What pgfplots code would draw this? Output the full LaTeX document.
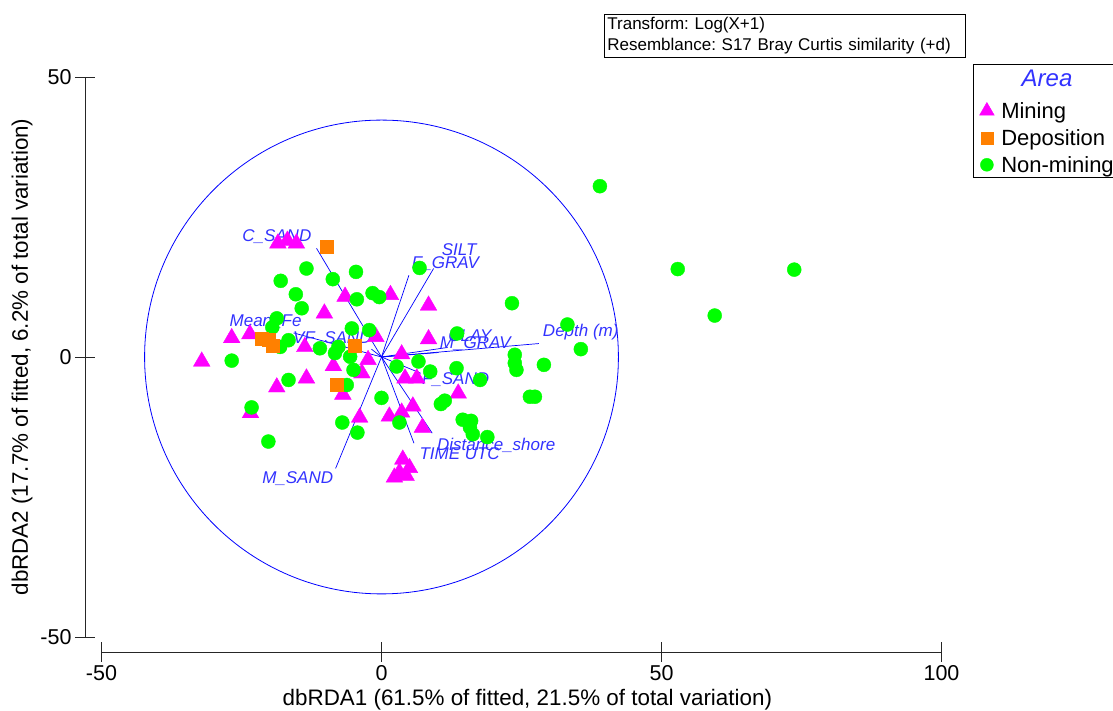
\documentclass[border=0pt]{standalone}
\usepackage{fontspec}
\setmainfont{Liberation Sans}
\usepackage{pgfplots}
\pgfplotsset{compat=1.18}
\definecolor{mmag}{RGB}{255,0,255}
\definecolor{morange}{RGB}{255,128,0}
\definecolor{mgreen}{RGB}{0,255,0}
\definecolor{vblue}{RGB}{0,0,255}
\definecolor{lblue}{RGB}{50,50,255}
\tikzset{lbl/.style={font=\fontsize{17}{20}\selectfont\itshape, text=lblue, inner sep=0pt}}
\frenchspacing
\begin{document}
\begin{tikzpicture}
\begin{axis}[
  scale only axis, width=840pt, height=560pt,
  xmin=-50, xmax=100, ymin=-50, ymax=50,
  axis x line*=bottom, axis y line*=left,
  axis x line shift=15pt, axis y line shift=16.5pt,
  axis line style={black!85, line width=0.9pt},
  xtick={-50,0,50,100}, xticklabels={-50,0,50,100},
  ytick={-50,0,50}, yticklabels={-50,0,50},
  tick align=center, major tick length=20pt,
  tick style={black!85, line width=0.9pt},
  tick label style={font=\fontsize{21.5}{26}\selectfont},
  xlabel={dbRDA1 (61.5\% of fitted, 21.5\% of total variation)},
  ylabel={dbRDA2 (17.7\% of fitted, 6.2\% of total variation)},
  label style={font=\fontsize{22.4}{27}\selectfont},
  xlabel style={at={(axis description cs:0.507,-0.112)}, anchor=center},
  ylabel style={at={(axis description cs:-0.0946,0.5)}, anchor=center},
  clip=false,
  legend cell align=left,
  legend style={at={(axis description cs:1.0355,0.9643)}, anchor=north west,
    draw=none, fill=none, font=\fontsize{22}{26}\selectfont,
    inner xsep=8pt, inner ysep=3pt, row sep=5.5pt,
    /tikz/every odd column/.append style={column sep=5pt}},
]
\coordinate (ll) at (rel axis cs:0,0);

\addlegendimage{only marks, mark=triangle*, mark size=8.5pt, color=mmag}
\addlegendentry{Mining}
\addlegendimage{only marks, mark=square*, mark size=6pt, color=morange}
\addlegendentry{Deposition}
\addlegendimage{only marks, mark=*, mark size=6.5pt, color=mgreen}
\addlegendentry{Non-mining}

% legend frame and title
\draw[black, line width=0.8pt] (axis description cs:1.0375,1.0232) rectangle (axis description cs:1.23,0.8214);
\node[font=\fontsize{24}{28}\selectfont\itshape, text=lblue] at (axis description cs:1.1256,0.9982) {Area};

% circle
\draw[vblue, line width=0.8pt] (axis cs:0,0) circle[radius=236.9pt];

% Mining
\addplot[only marks, mark=triangle*, mark size=9.6pt, color=mmag, forget plot] coordinates {
(-18.5,20.3) (-16.8,20.8) (-15.2,20.3)
(-6.5,10.8) (1.6,11.1) (8.4,9.2) (-10.2,7.8)
(-26.75,3.4) (-23.5,4.1) (-13.7,1.8) (-1.0,3.6) (8.4,3.2) (3.6,0.5)
(-32.1,-0.8) (-8.6,-1.6) (-2.4,-0.5) (-3.5,-2.9) (4.2,-3.8) (6.3,-3.8)
(-13.4,-3.8) (-18.7,-5.4) (-6.9,-6.7) (13.7,-6.5)
(-23.4,-10.0) (-3.9,-10.8) (1.4,-10.6) (3.6,-9.9) (5.6,-8.8) (7.3,-12.6)
(3.8,-18.3) (5.0,-19.8) (3.2,-20.6) (2.3,-21.5) (4.4,-21.2)
};

% Non-mining
\addplot[only marks, mark=*, mark size=7pt, color=mgreen, forget plot] coordinates {
(39.0,30.5) (52.9,15.7) (73.7,15.6) (59.5,7.4) (23.3,9.6) (33.2,5.8) (35.6,1.4)
(23.8,0.4) (23.8,-1.1) (24.1,-2.3) (29.0,-1.4) (26.5,-7.1) (27.4,-7.1)
(6.8,15.9) (13.5,4.2) (6.6,-0.8) (8.7,-2.6) (2.7,-1.7) (13.4,-2.0) (17.6,-4.1)
(11.3,-7.8) (10.6,-8.4) (14.5,-11.2) (16.0,-11.4) (15.8,-12.6) (16.3,-13.8) (18.9,-14.3)
(-13.4,15.8) (-4.55,15.2) (-18.0,13.6) (-8.7,13.9) (-15.3,11.2) (-14.25,8.7) (-4.4,10.3) (-1.6,11.4) (-0.4,10.7)
(-18.7,6.9) (-19.5,5.3) (-18.1,1.8) (-16.6,3.0) (-11.0,1.55) (-8.3,0.7) (-7.7,1.8) (-5.6,0.05) (-5.3,5.1) (-2.2,4.8)
(-26.75,-0.65) (-5.0,-2.3) (-16.6,-4.1) (-6.2,-5.0) (0,-7.3) (-23.2,-9.0) (-7.0,-11.7) (-4.3,-13.5) (-20.2,-15.1) (3.2,-11.7)
};

% Deposition
\addplot[only marks, mark=square*, mark size=6.5pt, color=morange, forget plot] coordinates {
(-9.8,19.7) (-21.4,3.3) (-20.2,3.0) (-19.5,2.0) (-4.8,2.0) (-8.0,-5.0)
};

% vectors
\addplot[vblue, line width=0.7pt, forget plot] coordinates {(0,0) (-11.6,19.4)};
\addplot[vblue, line width=0.7pt, forget plot] coordinates {(0,0) (4.9,14.6)};
\addplot[vblue, line width=0.7pt, forget plot] coordinates {(0,0) (9.3,15.8)};
\addplot[vblue, line width=0.7pt, forget plot] coordinates {(0,0) (-15.7,4.3)};
\addplot[vblue, line width=0.7pt, forget plot] coordinates {(0,0) (-1.8,1.4)};
\addplot[vblue, line width=0.7pt, forget plot] coordinates {(0,0) (28.1,2.4)};
\addplot[vblue, line width=0.7pt, forget plot] coordinates {(0,0) (11.8,1.7)};
\addplot[vblue, line width=0.7pt, forget plot] coordinates {(0,0) (10.2,0.8)};
\addplot[vblue, line width=0.7pt, forget plot] coordinates {(0,0) (7.0,-2.9)};
\addplot[vblue, line width=0.7pt, forget plot] coordinates {(0,0) (9.05,-13.6)};
\addplot[vblue, line width=0.7pt, forget plot] coordinates {(0,0) (5.8,-15.4)};
\addplot[vblue, line width=0.7pt, forget plot] coordinates {(0,0) (-8.2,-19.9)};

% vector labels
\node[lbl, anchor=east] at (axis cs:-12.5,21.5) {C\_SAND};
\node[lbl, anchor=west] at (axis cs:10.75,19.1) {SILT};
\node[lbl, anchor=west] at (axis cs:5.4,16.7) {F\_GRAV};
\node[lbl, anchor=east] at (axis cs:-14.25,6.3) {Mean\_Fe};
\node[lbl, anchor=east] at (axis cs:-1.75,3.3) {VF\_SAND};
\node[lbl, anchor=west] at (axis cs:11.9,3.9) {CLAY};
\node[lbl, anchor=west] at (axis cs:10.4,2.4) {M\_GRAV};
\node[lbl, anchor=west] at (axis cs:28.8,4.4) {Depth (m)};
\node[lbl, anchor=west] at (axis cs:7.2,-4.1) {F\_SAND};
\node[lbl, anchor=west] at (axis cs:9.9,-15.7) {Distance\_shore};
\node[lbl, anchor=west] at (axis cs:6.75,-17.2) {TIME UTC};
\node[lbl, anchor=east] at (axis cs:-8.6,-21.7) {M\_SAND};

% info box
\node[draw=black, line width=0.8pt, anchor=north west, inner xsep=3pt, inner ysep=3pt,
  text width=355pt, align=left, font=\fontsize{17}{21}\selectfont]
  at (rel axis cs:0.5982,1.1125) {Transform: Log(X+1)\\Resemblance: S17 Bray Curtis similarity (+d)};
\end{axis}
\pgfresetboundingbox
\path[use as bounding box] ([shift={(-101.5pt,-74pt)}]ll) rectangle ([shift={(1011.5pt,637pt)}]ll);
\end{tikzpicture}
\end{document}
